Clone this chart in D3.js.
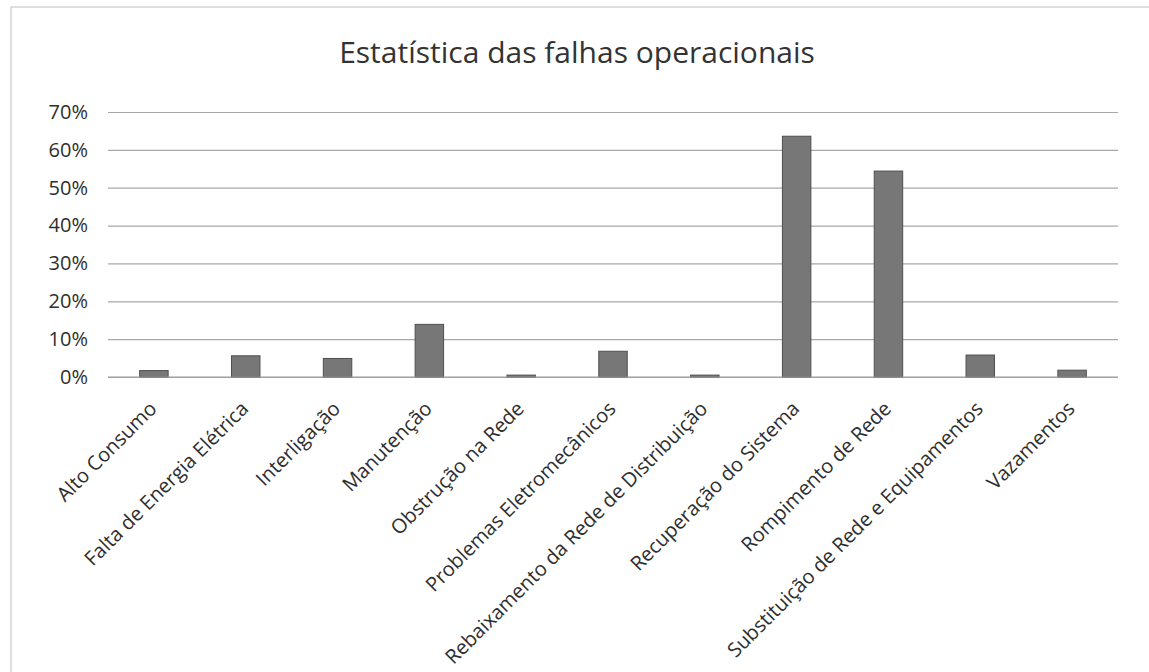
<!DOCTYPE html>
<html>
<head>
<meta charset="utf-8">
<script src="https://cdn.jsdelivr.net/npm/d3@7"></script>
<style>
  body { margin: 0; background: #fff; }
  text { font-family: "Open Sans", sans-serif; fill: #333; }
</style>
</head>
<body>
<div id="chart"></div>
<script>
// categorias e valores (percentual de falhas)
var categories = ["Alto Consumo", "Falta de Energia Elétrica", "Interligação", "Manutenção",
  "Obstrução na Rede", "Problemas Eletromecânicos", "Rebaixamento da Rede de Distribuição",
  "Recuperação do Sistema", "Rompimento de Rede", "Substituição de Rede e Equipamentos", "Vazamentos"]
var values = [0.017, 0.056, 0.049, 0.139, 0.005, 0.068, 0.005, 0.636, 0.544, 0.058, 0.018]
var yTicks = [0, 0.1, 0.2, 0.3, 0.4, 0.5, 0.6, 0.7]
var title = "Estatística das falhas operacionais"

var width = 1149, height = 672
var margin = {top: 112, right: 31, bottom: 295, left: 108}

var svg = d3.select("#chart").append("svg")
  .attr("width", width).attr("height", height)

// moldura do gráfico
svg.append("rect").attr("x", 11).attr("y", 7)
  .attr("width", width + 20).attr("height", height + 20)
  .attr("fill", "none").attr("stroke", "#bdbdbd").attr("stroke-width", 1)

var x = d3.scaleBand().domain(categories)
  .range([margin.left, width - margin.right])
  .paddingInner(0.69).paddingOuter(0.345)

var y = d3.scaleLinear().domain([0, 0.7])
  .range([height - margin.bottom, margin.top])

svg.append("text")
  .attr("x", 577).attr("y", 63)
  .attr("text-anchor", "middle")
  .style("font-size", "30px").style("fill", "#333")
  .text(title)

// grade
var yAxis = d3.axisLeft(y).tickValues(yTicks)
  .tickFormat(d3.format(".0%"))
  .tickSize(-(width - margin.left - margin.right)).tickPadding(20)

var gy = svg.append("g").attr("transform", "translate(" + margin.left + ",0)").call(yAxis)
gy.select(".domain").remove()
gy.selectAll(".tick line").attr("stroke", "#a8a8a8").attr("stroke-width", 1.2)
gy.selectAll(".tick text").style("font-size", "20px").style("fill", "#2e2e2e")
  .style("font-family", "'Open Sans', sans-serif")

svg.selectAll(".bar").data(values).enter().append("rect")
  .attr("class", "bar")
  .attr("x", function(d, i){ return x(categories[i]) })
  .attr("width", x.bandwidth())
  .attr("y", function(d){ return y(d) })
  .attr("height", function(d){ return y(0) - y(d) })
  .attr("fill", "#777").attr("stroke", "#4f4f4f").attr("stroke-width", 1)

// eixo x
svg.append("line").attr("x1", margin.left).attr("x2", width - margin.right)
  .attr("y1", y(0)).attr("y2", y(0)).attr("stroke", "#999").attr("stroke-width", 1.2)

svg.selectAll(".xlabel").data(categories).enter().append("text")
  .attr("class", "xlabel")
  .attr("text-anchor", "end")
  .style("font-size", "20px").style("fill", "#2e2e2e")
  .attr("transform", function(d){
    return "translate(" + (x(d) + x.bandwidth() / 2 + 4) + "," + (y(0) + 33) + ") rotate(-45)"
  })
  .text(function(d){ return d })
</script>
</body>
</html>
